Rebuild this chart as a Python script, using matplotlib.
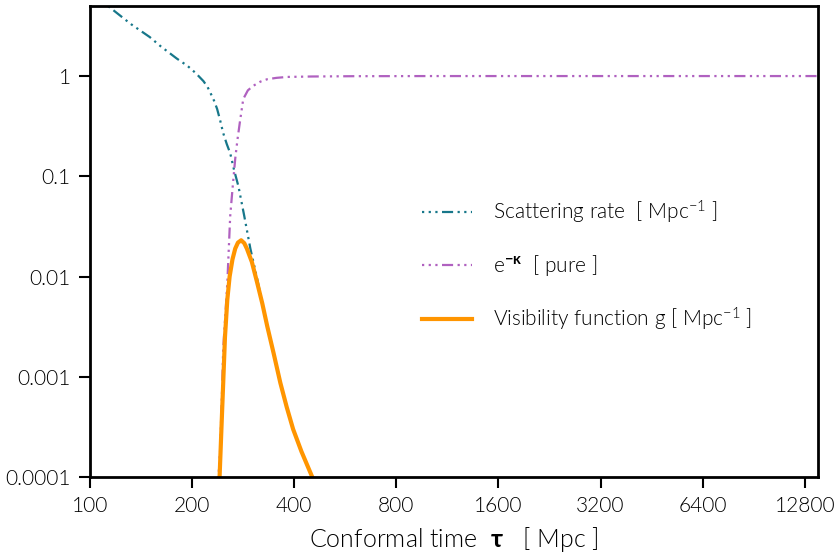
import matplotlib
matplotlib.use("Agg")
import matplotlib.pyplot as plt
from matplotlib import font_manager

# Values
tau_scat = [100, 113, 132, 150, 161, 180, 194, 205, 216, 222, 226, 232, 237, 242, 247, 253,
            259, 266, 274, 285, 297, 311, 322, 333, 348, 364, 380, 397, 420, 452, 480]
scat_rate = [6.5, 5.0, 3.3, 2.45, 2.0, 1.5, 1.26, 1.07, 0.89, 0.78, 0.69, 0.57, 0.47, 0.36,
             0.27, 0.21, 0.17, 0.115, 0.079, 0.04, 0.019, 0.0095, 0.0054, 0.0032, 0.0017,
             0.00087, 0.0005, 0.0003, 0.00018, 0.0001, 0.00006]

tau_exp = [236, 242, 245, 247, 251, 254, 259, 263, 268, 272, 277, 283, 292, 303, 318, 333,
           355, 381, 450, 600, 1000, 2000, 4000, 8000, 14000]
exp_kappa = [0.00005, 0.00019, 0.0007, 0.0019, 0.0045, 0.0087, 0.04, 0.074, 0.15, 0.23,
             0.36, 0.59, 0.72, 0.8, 0.88, 0.93, 0.96, 0.98, 0.99, 0.997, 1.0, 1.0, 1.0,
             1.0, 1.0]

tau_vis = [238, 241, 244, 247, 250, 254, 258, 263, 268, 273, 279, 285, 290, 300, 311, 322,
           333, 348, 364, 380, 397, 420, 452, 470]
vis_g = [0.00005, 0.0001, 0.0003, 0.00087, 0.0025, 0.0059, 0.0100, 0.0148, 0.019, 0.0218,
         0.023, 0.0215, 0.019, 0.014, 0.0087, 0.0054, 0.0032, 0.0017, 0.00087, 0.0005,
         0.0003, 0.00018, 0.0001, 0.00007]

xticks = [100, 200, 400, 800, 1600, 3200, 6400, 12800]
yticks = [0.0001, 0.001, 0.01, 0.1, 1]
ytick_labels = ["0.0001", "0.001", "0.01", "0.1", "1"]

names = {f.name for f in font_manager.fontManager.ttflist}
family = 'DejaVu Sans'
for cand in ['Gill Sans', 'Gill Sans MT', 'Lato', 'Cabin']:
    if cand in names:
        family = cand
        break
plt.rcParams['font.family'] = [family, 'DejaVu Sans']
plt.rcParams['font.weight'] = 300
plt.rcParams['axes.labelweight'] = 300
plt.rcParams['text.color'] = 'black'
plt.rcParams['mathtext.fontset'] = 'custom'
plt.rcParams['mathtext.rm'] = family
plt.rcParams['mathtext.it'] = family
plt.rcParams['mathtext.bf'] = family + ':bold'

teal = '#17778a'
purple = '#b061c0'
orange = '#ff9500'
dash = (0, (1, 2, 1, 2, 1, 2, 5, 2))

fig = plt.figure(figsize=(8.34, 5.56), dpi=100)
ax = fig.add_axes([90 / 834, 1 - 477 / 556, 728 / 834, 471 / 556])

ax.plot(tau_scat, scat_rate, color=teal, lw=1.6, linestyle=dash,
        label=r"Scattering rate  [ Mpc$^{-1}$ ]")
ax.plot(tau_exp, exp_kappa, color=purple, lw=1.6, linestyle=dash,
        label=r"e$^{\mathbf{-\kappa}}$  [ pure ]")
ax.plot(tau_vis, vis_g, color=orange, lw=3,
        label=r"Visibility function g [ Mpc$^{-1}$ ]")

ax.set_xscale('log', base=2)
ax.set_yscale('log')
ax.set_xlim(100, 14000)
ax.set_ylim(0.0001, 5)
ax.set_xticks(xticks)
ax.set_xticklabels([str(t) for t in xticks])
ax.set_yticks(yticks)
ax.set_yticklabels(ytick_labels)
ax.minorticks_off()
ax.tick_params(direction='out', length=8, width=1.5, labelsize=15, pad=6,
               labelcolor='black')
for s in ax.spines.values():
    s.set_linewidth(2)

ax.set_xlabel(r"Conformal time  $\mathbf{\tau}$   [ Mpc ]", fontsize=18,
              fontweight=300, labelpad=6)

ax.legend(loc='upper left', bbox_to_anchor=(0.43, 0.63), frameon=False,
          fontsize=15, labelspacing=1.3, handlelength=2.4, handletextpad=1.0)

fig.savefig("out.png", dpi=100)
